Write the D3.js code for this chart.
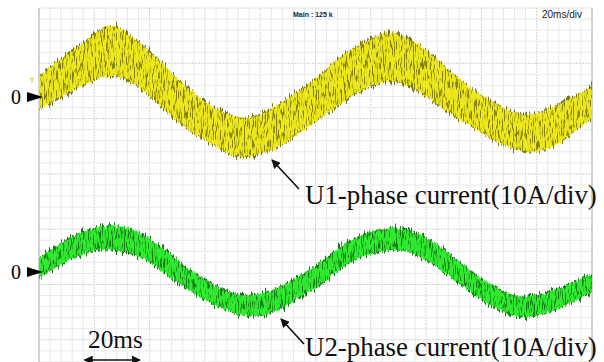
<!DOCTYPE html>
<html>
<head>
<meta charset="utf-8">
<script src="https://cdn.jsdelivr.net/npm/d3@7"></script>
<style>
  html, body { margin: 0; padding: 0; background: #fff; }
  svg { display: block; }
</style>
</head>
<body>
<div id="chart"></div>
<script>
// U1 phase current band (ms, A): upper / lower edge of the noisy band
const u1Time  = [0, 7.2, 14.5, 21.7, 26.4, 33.6, 40.9, 48.1, 55.3, 62.6, 69.8, 74.9, 82.1, 89.3, 96.6, 101.3,
                 107.1, 114.3, 121.5, 127.7, 133.5, 140.7, 147.9, 155.2, 162.4, 169.6, 176.9, 184.1, 191.3, 198.6, 200];
const u1Upper = [3.6, 6.7, 9.0, 12.1, 13.4, 10.8, 8.0, 4.3, 0.7, -1.8, -3.6, -4.2, -2.9, -0.5, 1.8, 3.6,
                 6.7, 9.0, 10.8, 12.1, 10.3, 8.5, 4.9, 1.8, -0.5, -2.4, -3.6, -2.4, -0.5, 1.3, 2.2];
const u1Lower = [-2.2, 0.0, 1.8, 3.6, 4.0, 3.1, 0.0, -3.6, -6.5, -8.3, -10.8, -10.8, -10.1, -8.3, -5.4, -4.2,
                 -1.8, 0.7, 2.5, 3.1, 2.5, 0.0, -2.9, -4.7, -7.2, -9.0, -10.1, -9.6, -7.2, -4.2, -3.8];

// U2 phase current band
const u2Time  = [0, 7.2, 14.5, 21.7, 28.9, 36.2, 43.4, 50.6, 57.9, 65.1, 72.3, 79.6, 86.8, 94.0, 101.3,
                 107.1, 114.3, 121.5, 128.8, 136.0, 143.2, 150.5, 157.7, 164.9, 172.2, 179.4, 186.6, 193.9, 200];
const u2Upper = [2.5, 4.9, 7.1, 8.1, 8.5, 7.2, 4.9, 1.8, -0.9, -2.9, -4.5, -4.2, -2.9, -0.9, 1.3,
                 4.0, 6.1, 7.6, 8.1, 7.2, 5.4, 2.5, -0.5, -2.9, -4.5, -4.5, -3.3, -1.8, -0.5];
const u2Lower = [-1.1, 1.3, 3.1, 4.3, 4.0, 3.1, 0.7, -2.0, -4.5, -6.3, -7.8, -8.1, -6.9, -4.5, -2.7,
                 0.0, 2.5, 3.6, 4.3, 3.4, 1.3, -1.4, -4.2, -6.5, -8.1, -8.1, -6.9, -5.1, -3.6];

const timeDomain = [0, 200];        // 10 div x 20 ms
const ampPerDiv = 10;               // A/div
const scaleBar = [16.5, 36.5];      // "20ms" marker
const labelU1 = "U1-phase current(10A/div)";
const labelU2 = "U2-phase current(10A/div)";

const width = 604, height = 362;
const plotLeft = 39, plotRight = 592, plotTop = 8;
const divPx = (plotRight - plotLeft) / 10;
const zeroU1 = 97, zeroU2 = 272;

const svg = d3.select('#chart').append('svg')
  .attr('width', width).attr('height', height);

const defs = svg.append('defs');

// deterministic noise filters to give the traces their scope-like grain
function jitterFilter(id, seed, scale, freq) {
  const f = defs.append('filter').attr('id', id)
    .attr('filterUnits', 'userSpaceOnUse')
    .attr('x', 0).attr('y', 0).attr('width', width).attr('height', height)
    .attr('color-interpolation-filters', 'sRGB');
  f.append('feTurbulence').attr('type', 'fractalNoise')
    .attr('baseFrequency', freq).attr('numOctaves', 2).attr('seed', seed).attr('result', 'n');
  f.append('feColorMatrix').attr('in', 'n').attr('type', 'matrix')
    .attr('values', '0 0 0 0 0.5  0 1 0 0 0  0 0 1 0 0  0 0 0 0 1').attr('result', 'm');
  f.append('feDisplacementMap').attr('in', 'SourceGraphic').attr('in2', 'm')
    .attr('scale', scale).attr('xChannelSelector', 'R').attr('yChannelSelector', 'G');
}
function streakFilter(id, seed, scale, cut) {
  const f = defs.append('filter').attr('id', id)
    .attr('filterUnits', 'userSpaceOnUse')
    .attr('x', 0).attr('y', 0).attr('width', width).attr('height', height)
    .attr('color-interpolation-filters', 'sRGB');
  f.append('feTurbulence').attr('type', 'fractalNoise')
    .attr('baseFrequency', '0.9 0.1').attr('numOctaves', 2).attr('seed', seed).attr('result', 't');
  f.append('feColorMatrix').attr('in', 't').attr('type', 'matrix')
    .attr('values', `0 0 0 0 0  0 0 0 0 0  0 0 0 0 0  7 0 0 0 ${cut}`).attr('result', 'a');
  f.append('feComposite').attr('in', 'SourceGraphic').attr('in2', 'a').attr('operator', 'in').attr('result', 's');
  f.append('feTurbulence').attr('type', 'fractalNoise')
    .attr('baseFrequency', '0.8 0.02').attr('numOctaves', 2).attr('seed', seed + 11).attr('result', 'n');
  f.append('feColorMatrix').attr('in', 'n').attr('type', 'matrix')
    .attr('values', '0 0 0 0 0.5  0 1 0 0 0  0 0 1 0 0  0 0 0 0 1').attr('result', 'm');
  f.append('feDisplacementMap').attr('in', 's').attr('in2', 'm')
    .attr('scale', scale).attr('xChannelSelector', 'R').attr('yChannelSelector', 'G');
}
jitterFilter('spikeA', 3, 16, '0.75 0.015');
jitterFilter('coreA', 8, 7, '0.75 0.02');
streakFilter('streakA', 5, 8, -3.45);
streakFilter('streakB', 9, 8, -3.6);

defs.append('marker').attr('id', 'arrow')
  .attr('viewBox', '0 0 10 10').attr('refX', 9).attr('refY', 5)
  .attr('markerWidth', 9).attr('markerHeight', 9).attr('markerUnits', 'userSpaceOnUse')
  .attr('orient', 'auto-start-reverse')
  .append('path').attr('d', 'M0,0 L10,5 L0,10 z').attr('fill', '#111');

// scales
const x = d3.scaleLinear().domain(timeDomain).range([plotLeft, plotRight]);
const yU1 = d3.scaleLinear().domain([-ampPerDiv, ampPerDiv]).range([zeroU1 + divPx, zeroU1 - divPx]);
const yU2 = d3.scaleLinear().domain([-ampPerDiv, ampPerDiv]).range([zeroU2 + divPx, zeroU2 - divPx]);

// grid
const grid = svg.append('g');
const minorX = d3.range(0, 200.01, 4);
grid.selectAll('.vx').data(minorX).enter().append('line')
  .attr('x1', d => x(d)).attr('x2', d => x(d)).attr('y1', plotTop).attr('y2', height)
  .attr('stroke', d => d % 20 === 0 ? '#d2d2d2' : '#e9e9e9')
  .attr('stroke-dasharray', d => d % 20 === 0 ? '2,1' : null)
  .attr('stroke-width', 1);
const minorY = d3.range(plotTop, height, divPx / 5);
grid.selectAll('.hy').data(minorY).enter().append('line')
  .attr('x1', plotLeft).attr('x2', plotRight).attr('y1', d => d).attr('y2', d => d)
  .attr('stroke', (d, i) => i % 5 === 0 ? '#d2d2d2' : '#e9e9e9')
  .attr('stroke-dasharray', (d, i) => i % 5 === 0 ? '2,1' : null);
grid.append('line').attr('x1', plotLeft).attr('x2', plotLeft).attr('y1', plotTop).attr('y2', height)
  .attr('stroke', '#b4b4b4');
grid.append('line').attr('x1', plotRight).attr('x2', plotRight).attr('y1', plotTop).attr('y2', height)
  .attr('stroke', '#b4b4b4');

// traces
function drawBand(times, up, lo, yScale, dark, core) {
  const rows = times.map((t, i) => ({ t, up: up[i], lo: lo[i] }));
  const area = d3.area().curve(d3.curveBasis)
    .x(d => x(d.t)).y0(d => yScale(d.lo)).y1(d => yScale(d.up));
  const g = svg.append('g');
  g.append('path').datum(rows).attr('d', area).attr('fill', dark).attr('opacity', 0.9)
    .attr('filter', 'url(#spikeA)');
  g.append('path').datum(rows).attr('d', area).attr('fill', core).attr('filter', 'url(#coreA)');
  g.append('path').datum(rows).attr('d', area).attr('fill', dark).attr('opacity', 0.8)
    .attr('filter', 'url(#streakA)');
  g.append('path').datum(rows).attr('d', area).attr('fill', core).attr('opacity', 0.9)
    .attr('filter', 'url(#streakB)');
}
drawBand(u1Time, u1Upper, u1Lower, yU1, '#6e690c', '#ece81c');
drawBand(u2Time, u2Upper, u2Lower, yU2, '#0d640d', '#30ea30');

// zero markers
const zeros = [{ y: zeroU1 }, { y: zeroU2 }];
svg.selectAll('.zt').data(zeros).enter().append('path')
  .attr('d', d => `M27,${d.y - 5} L43,${d.y} L27,${d.y + 5} z`).attr('fill', '#000');
svg.selectAll('.zl').data(zeros).enter().append('text')
  .attr('x', 11).attr('y', d => d.y + 7)
  .attr('font-family', 'Liberation Serif, Times New Roman, serif').attr('font-size', 20)
  .attr('fill', '#000').text('0');
svg.append('text').attr('x', 30).attr('y', 83)
  .attr('font-family', 'Liberation Sans, Arial, sans-serif').attr('font-size', 7).attr('font-weight', 'bold')
  .attr('fill', '#d8d000').text('T');

// scope readouts
svg.append('text').attr('x', 293).attr('y', 17)
  .attr('font-family', 'Liberation Sans, Arial, sans-serif').attr('font-size', 7).attr('font-weight', 'bold')
  .attr('fill', '#222').text('Main : 125 k');
svg.append('text').attr('x', 542).attr('y', 18)
  .attr('font-family', 'Liberation Sans, Arial, sans-serif').attr('font-size', 10)
  .attr('fill', '#222').text('20ms/div');

// annotations
function label(txt, x0, base, targetW) {
  const t = svg.append('text').attr('x', x0).attr('y', base)
    .attr('font-family', 'Liberation Serif, Times New Roman, serif').attr('font-size', 22)
    .attr('fill', '#111').text(txt);
  const w = t.node().getComputedTextLength();
  t.attr('font-size', 22 * targetW / w);
}
label(labelU1, 305, 204, 292);
label(labelU2, 305, 356, 292);
label('20ms', 88, 348, 55);

svg.append('line').attr('x1', 299).attr('y1', 189).attr('x2', 272).attr('y2', 160)
  .attr('stroke', '#111').attr('stroke-width', 1.6).attr('marker-end', 'url(#arrow)');
svg.append('line').attr('x1', 304).attr('y1', 344).attr('x2', 281).attr('y2', 319)
  .attr('stroke', '#111').attr('stroke-width', 1.6).attr('marker-end', 'url(#arrow)');
svg.append('line').attr('x1', x(scaleBar[0])).attr('y1', 360).attr('x2', x(scaleBar[1])).attr('y2', 360)
  .attr('stroke', '#111').attr('stroke-width', 1.6)
  .attr('marker-start', 'url(#arrow)').attr('marker-end', 'url(#arrow)');
</script>
</body>
</html>
